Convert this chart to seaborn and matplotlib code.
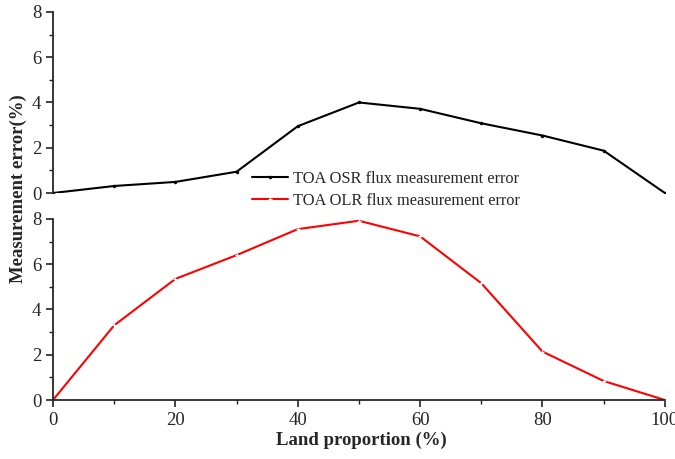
import numpy as np
import pandas as pd
import matplotlib
matplotlib.use("Agg")
import matplotlib.pyplot as plt
import seaborn as sns
from matplotlib.ticker import MultipleLocator

land = [0, 10, 20, 30, 40, 50, 60, 70, 80, 90, 100]
osr_err = [0.0, 0.31, 0.49, 0.94, 2.95, 4.0, 3.72, 3.08, 2.54, 1.87, 0.0]
olr_err = [0.0, 3.3, 5.35, 6.4, 7.55, 7.92, 7.23, 5.16, 2.14, 0.84, 0.0]
osr_label = "TOA OSR flux measurement error"
olr_label = "TOA OLR flux measurement error"

sns.set_style("ticks")
plt.rcParams['font.family'] = ['Liberation Serif', 'DejaVu Serif']
plt.rcParams['font.size'] = 12

fig = plt.figure(figsize=(6.75, 4.59), dpi=100)
ax_top = fig.add_axes([0.0785, 0.5795, 0.9065, 0.3945])
ax_bot = fig.add_axes([0.0785, 0.1285, 0.9065, 0.3945])

df = pd.DataFrame({"land": land, "osr": osr_err, "olr": olr_err})

sns.lineplot(data=df, x="land", y="osr", ax=ax_top, color="black", lw=1.5,
             marker="o", markersize=2.5, markeredgewidth=0, label=osr_label, legend=False)
sns.lineplot(data=df, x="land", y="olr", ax=ax_bot, color="red", lw=1.5,
             marker="+", markersize=3, markeredgewidth=0.8, label=olr_label, legend=False)

for ax in (ax_top, ax_bot):
    ax.set_xlim(0, 100)
    ax.set_ylim(0, 8)
    ax.yaxis.set_major_locator(MultipleLocator(2))
    ax.yaxis.set_minor_locator(MultipleLocator(1))
    ax.xaxis.set_major_locator(MultipleLocator(20))
    ax.xaxis.set_minor_locator(MultipleLocator(10))
    ax.tick_params(which="major", direction="out", length=5, width=1.2, labelsize=13.5, color="#222222")
    ax.tick_params(which="minor", direction="out", length=3, width=1.0, color="#222222")
    ax.spines["top"].set_visible(False)
    ax.spines["right"].set_visible(False)
    ax.spines["left"].set_linewidth(1.3)
    ax.spines["bottom"].set_linewidth(1.3)
    ax.set_xlabel("")
    ax.set_ylabel("")
    ax.patch.set_alpha(0)

ax_top.spines["bottom"].set_visible(False)
ax_top.tick_params(axis="x", which="both", bottom=False, labelbottom=False)

handles = ax_top.get_lines()[:1] + ax_bot.get_lines()[:1]
fig.legend(handles, [osr_label, olr_label], loc="upper left",
           bbox_to_anchor=(0.352, 0.66), frameon=False, fontsize=11.8,
           handlelength=2.2, handletextpad=0.3, labelspacing=0.35)

fig.text(0.027, 0.59, "Measurement error(%)", rotation=90, ha="center", va="center",
         fontsize=13.5, fontweight="bold")
fig.text(0.535, 0.04, "Land proportion (%)", ha="center", va="center",
         fontsize=13.5, fontweight="bold")

fig.savefig("out.png", dpi=100)
